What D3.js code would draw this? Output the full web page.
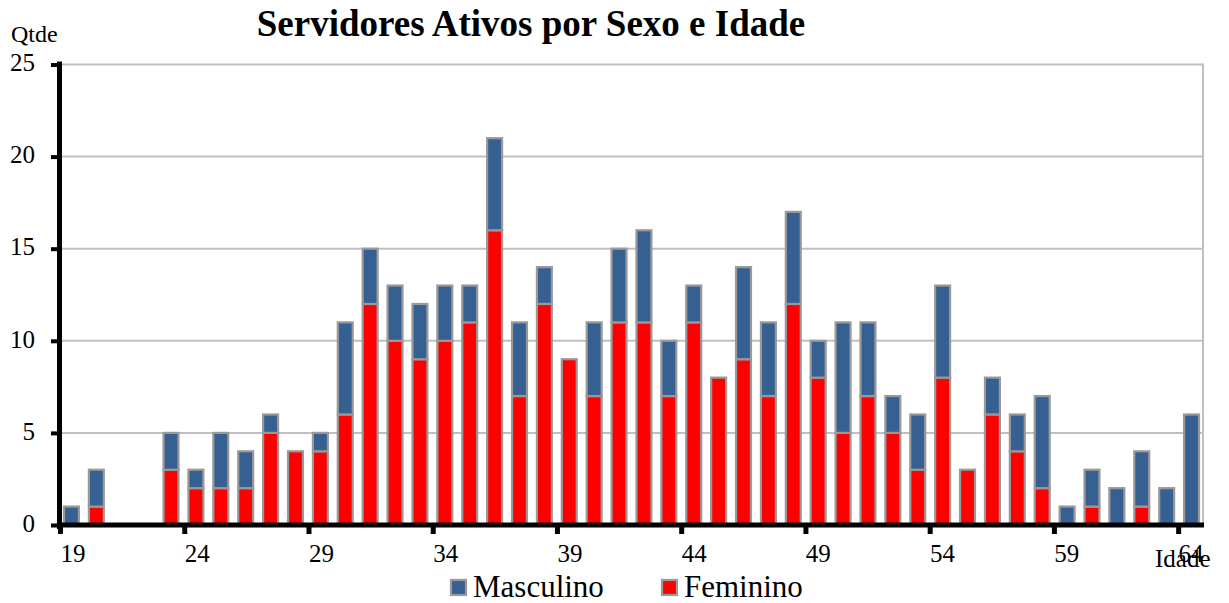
<!DOCTYPE html>
<html>
<head>
<meta charset="utf-8">
<script src="https://cdn.jsdelivr.net/npm/d3@7"></script>
<style>
  body { margin:0; background:#fff; }
  text { font-family: "Liberation Serif", "Times New Roman", serif; fill:#000; }
</style>
</head>
<body>
<svg id="chart" width="1229" height="603"></svg>
<script>
// ages on the x axis
var ages = [19,20,21,22,23,24,25,26,27,28,29,30,31,32,33,34,35,36,37,38,39,40,41,42,
            43,44,45,46,47,48,49,50,51,52,53,54,55,56,57,58,59,60,61,62,63,64];
// women (bottom of stack)
var feminino = [0,1,0,0,3,2,2,2,5,4,4,6,12,10,9,10,11,16,7,12,9,7,11,11,
                7,11,8,9,7,12,8,5,7,5,3,8,3,6,4,2,0,1,0,1,0,0];
// men (top of stack)
var masculino = [1,2,0,0,2,1,3,2,1,0,1,5,3,3,3,3,2,5,4,2,0,4,4,5,
                 3,2,0,5,4,5,2,6,4,2,3,5,0,2,2,5,1,2,2,3,2,6];
var yTicks = [0,5,10,15,20,25];
var xLabels = [19,24,29,34,39,44,49,54,59,64];

var blue = "#376092", red = "#ff0000", edge = "#999999";

var svg = d3.select("#chart");
var plotLeft = 60, plotRight = 1203, plotTop = 64.5, plotBottom = 525;

// build rows for the stack
var rows = ages.map(function(a,i){
  return {age:a, Feminino:feminino[i], Masculino:masculino[i]};
});
var series = d3.stack().keys(["Feminino","Masculino"])(rows);

var x = d3.scaleBand().domain(ages).range([plotLeft,plotRight])
          .paddingInner(0.4).paddingOuter(0.16);
// linear scale for category boundaries / label centres
var xLin = d3.scaleLinear().domain([19,65]).range([plotLeft,plotRight]);
var y = d3.scaleLinear().domain([0,25]).range([plotBottom,plotTop]);

// gridlines
svg.append("g").selectAll("line")
  .data(yTicks.filter(function(d){ return d>0; }))
  .enter().append("line")
  .attr("x1",plotLeft).attr("x2",plotRight)
  .attr("y1",function(d){ return y(d); }).attr("y2",function(d){ return y(d); })
  .attr("stroke","#c0c0c0").attr("stroke-width",2);
// right border
svg.append("line").attr("x1",plotRight).attr("x2",plotRight)
  .attr("y1",y(25)-1).attr("y2",plotBottom)
  .attr("stroke","#c0c0c0").attr("stroke-width",2);

// bars
var colors = {Feminino:red, Masculino:blue};
svg.append("g").selectAll("g")
  .data(series).enter().append("g")
  .attr("fill",function(s){ return colors[s.key]; })
  .selectAll("rect")
  .data(function(s){ return s.filter(function(d){ return d[1]-d[0]>0; }); })
  .enter().append("rect")
  .attr("x",function(d){ return x(d.data.age); })
  .attr("width",x.bandwidth())
  .attr("y",function(d){ return y(d[1]); })
  .attr("height",function(d){ return y(d[0])-y(d[1]); })
  .attr("stroke",edge).attr("stroke-width",2.2);

// y axis
var yAxis = svg.append("g").attr("transform","translate(" + plotLeft + ",0)")
  .call(d3.axisLeft(y).tickValues(yTicks).tickSize(9).tickPadding(16));
yAxis.select(".domain").remove();
yAxis.selectAll(".tick line").attr("stroke","#000").attr("stroke-width",4);
yAxis.selectAll(".tick text").style("font-size","25px").attr("dy","0.25em");
svg.append("line").attr("x1",plotLeft-0.5).attr("x2",plotLeft-0.5)
  .attr("y1",y(25)-3).attr("y2",plotBottom+4)
  .attr("stroke","#000").attr("stroke-width",5);

// x axis
var xAxis = svg.append("g").attr("transform","translate(0," + plotBottom + ")")
  .call(d3.axisBottom(xLin).tickValues(xLabels).tickSize(9).tickPadding(14)
        .tickFormat(d3.format("d")));
xAxis.select(".domain").remove();
xAxis.selectAll(".tick line").attr("stroke","#000").attr("stroke-width",5);
xAxis.selectAll(".tick text").style("font-size","25px")
  .attr("x",(xLin(20)-xLin(19))/2).attr("dy","0.55em");
svg.append("line").attr("x1",plotLeft-3).attr("x2",plotRight+1)
  .attr("y1",plotBottom).attr("y2",plotBottom)
  .attr("stroke","#000").attr("stroke-width",5);

// titles
svg.append("text").attr("x",531).attr("y",36).attr("text-anchor","middle")
  .style("font-size","37px").style("font-weight","bold")
  .text("Servidores Ativos por Sexo e Idade");
svg.append("text").attr("x",11).attr("y",42).style("font-size","24px").text("Qtde");
svg.append("text").attr("x",1155).attr("y",567).style("font-size","25px").text("Idade");

// legend
var legend = [{name:"Masculino", color:blue, x:451}, {name:"Feminino", color:red, x:662}];
var lg = svg.append("g").selectAll("g").data(legend).enter().append("g")
  .attr("transform",function(d){ return "translate(" + d.x + ",580)"; });
lg.append("rect").attr("width",15).attr("height",15)
  .attr("fill",function(d){ return d.color; })
  .attr("stroke",edge).attr("stroke-width",2.2);
lg.append("text").attr("x",22).attr("y",17).style("font-size","31px")
  .text(function(d){ return d.name; });
</script>
</body>
</html>
